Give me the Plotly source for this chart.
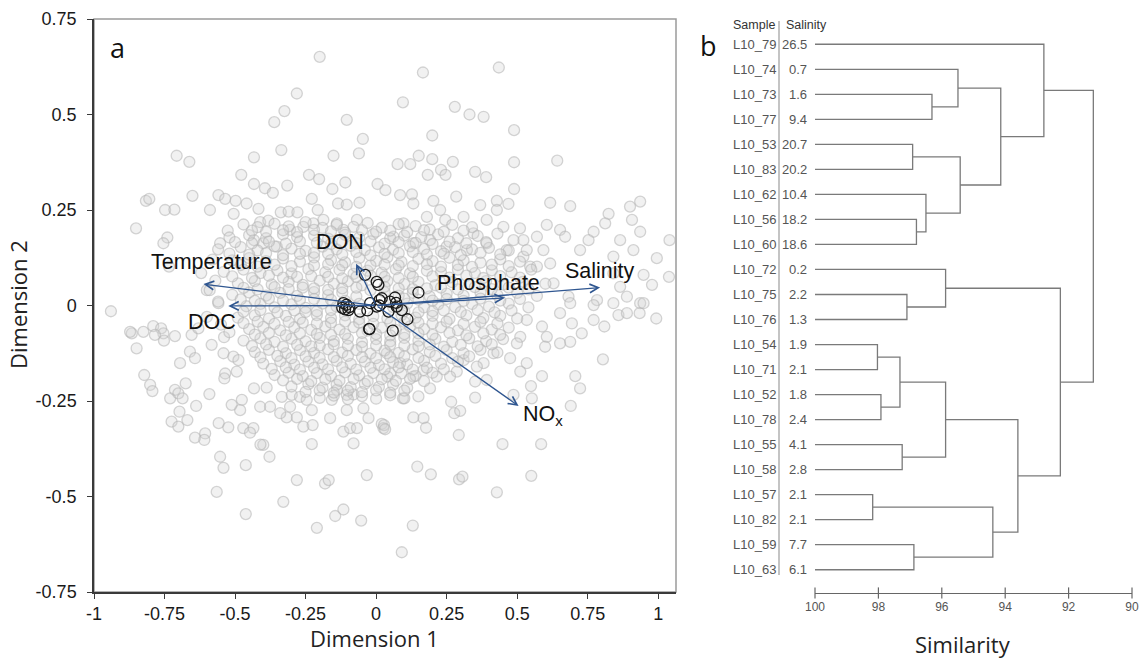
import plotly.graph_objects as go

W, H = 1139, 661

# ---------------- Panel a data: NMDS ordination ----------------
grey_pts = [
    # upper-left region
    (-0.20, 0.651), (-0.281, 0.555), (-0.325, 0.509), (-0.361, 0.48), (-0.104, 0.486), (-0.047, 0.436),
    (-0.061, 0.398), (-0.151, 0.392), (-0.336, 0.407), (-0.433, 0.388), (-0.707, 0.392), (-0.662, 0.376),
    (-0.478, 0.342), (-0.433, 0.318), (-0.394, 0.307), (-0.366, 0.295), (-0.315, 0.314), (-0.238, 0.342),
    (-0.202, 0.331), (-0.155, 0.305), (-0.109, 0.322), (0.005, 0.318), (-0.816, 0.274), (-0.804, 0.279),
    (-0.748, 0.25), (-0.715, 0.251), (-0.651, 0.287), (-0.589, 0.25), (-0.559, 0.289), (-0.535, 0.279),
    (-0.498, 0.274), (-0.459, 0.267), (-0.505, 0.24), (-0.417, 0.253), (-0.411, 0.218), (-0.382, 0.222),
    (-0.338, 0.244), (-0.31, 0.246), (-0.279, 0.244), (-0.228, 0.279), (-0.135, 0.267), (-0.104, 0.264),
    (-0.059, 0.269), (-0.207, 0.25), (-0.851, 0.202), (-0.74, 0.178), (-0.754, 0.163), (-0.526, 0.196),
    (-0.553, 0.163), (-0.734, 0.102), (-0.433, 0.171), (-0.40, 0.163), (-0.352, 0.154), (-0.305, 0.198),
    (-0.258, 0.206), (-0.222, 0.215), (-0.187, 0.224), (-0.139, 0.215), (-0.116, 0.198), (-0.068, 0.224),
    (-0.60, 0.04), (-0.559, 0.006), (-0.94, -0.015),
    # upper-right region
    (0.166, 0.61), (0.435, 0.623), (0.095, 0.532), (0.279, 0.52), (0.331, 0.5), (0.381, 0.494),
    (0.199, 0.445), (0.489, 0.459), (0.076, 0.37), (0.121, 0.37), (0.151, 0.392), (0.199, 0.383),
    (0.23, 0.355), (0.246, 0.342), (0.183, 0.342), (0.272, 0.376), (0.351, 0.35), (0.39, 0.336),
    (0.489, 0.375), (0.642, 0.379), (0.489, 0.305), (0.617, 0.269), (0.688, 0.26), (0.033, 0.302),
    (0.085, 0.289), (0.127, 0.291), (0.203, 0.274), (0.284, 0.285), (0.369, 0.263), (0.428, 0.274),
    (0.469, 0.266), (0.90, 0.259), (0.936, 0.272), (0.907, 0.224), (0.824, 0.24), (0.812, 0.215),
    (1.04, 0.171), (1.038, 0.075), (0.995, 0.124), (0.936, 0.193), (0.865, 0.171), (0.912, 0.145),
    (0.948, 0.08), (0.978, 0.054), (0.841, 0.128), (0.771, 0.193), (0.753, 0.171), (0.723, 0.145),
    (0.652, 0.198), (0.67, 0.18), (0.605, 0.211), (0.57, 0.18), (0.522, 0.171), (0.51, 0.202),
    (0.841, 0.084), (0.889, 0.023), (0.936, 0.006), (0.783, 0.014), (0.865, 0.049), (0.682, 0.023),
    (0.629, 0.058), (0.546, 0.102), (0.522, 0.128), (0.463, 0.145), (0.428, 0.25), (0.392, 0.224),
    (0.345, 0.189), (0.31, 0.232), (0.245, 0.224), (0.227, 0.25), (0.18, 0.232), (0.132, 0.267),
    (0.097, 0.215), (0.061, 0.18), (0.132, 0.163), (0.191, 0.171), (0.25, 0.154), (0.322, 0.145),
    (0.392, 0.163), (0.451, 0.206), (0.487, 0.171), (0.534, 0.145), (0.593, 0.145), (0.57, 0.102),
    (0.617, 0.11),
    # lower-left region
    (-0.866, -0.073), (-0.872, -0.069), (-0.825, -0.069), (-0.79, -0.054), (-0.762, -0.06), (-0.754, -0.073),
    (-0.713, -0.08), (-0.752, -0.092), (-0.849, -0.112), (-0.784, -0.077), (-0.822, -0.182), (-0.801, -0.208),
    (-0.793, -0.224), (-0.73, -0.243), (-0.713, -0.221), (-0.701, -0.23), (-0.675, -0.204), (-0.686, -0.243),
    (-0.697, -0.278), (-0.725, -0.304), (-0.701, -0.317), (-0.669, -0.30), (-0.638, -0.263), (-0.591, -0.232),
    (-0.695, -0.151), (-0.66, -0.121), (-0.642, -0.138), (-0.654, -0.077), (-0.583, -0.103), (-0.539, -0.083),
    (-0.541, -0.125), (-0.506, -0.134), (-0.488, -0.143), (-0.494, -0.173), (-0.535, -0.178), (-0.538, -0.191),
    (-0.606, -0.335), (-0.642, -0.346), (-0.609, -0.352), (-0.553, -0.396), (-0.541, -0.425), (-0.565, -0.488),
    (-0.462, -0.418), (-0.462, -0.546), (-0.558, -0.308), (-0.524, -0.319), (-0.476, -0.247), (-0.471, -0.321),
    (-0.435, -0.321), (-0.447, -0.333), (-0.482, -0.274), (-0.512, -0.26), (-0.40, -0.365), (-0.41, -0.364),
    (-0.378, -0.396), (-0.433, -0.217), (-0.388, -0.215), (-0.411, -0.265), (-0.376, -0.265), (-0.334, -0.239),
    (-0.299, -0.234), (-0.27, -0.239), (-0.246, -0.247), (-0.305, -0.265), (-0.281, -0.293), (-0.317, -0.293),
    (-0.34, -0.282), (-0.228, -0.274), (-0.258, -0.317), (-0.225, -0.313), (-0.228, -0.363), (-0.281, -0.457),
    (-0.181, -0.466), (-0.168, -0.457), (-0.329, -0.514), (-0.145, -0.551), (-0.116, -0.534), (-0.21, -0.582),
    (-0.053, -0.563), (-0.033, -0.444), (-0.08, -0.361), (-0.116, -0.33), (-0.092, -0.321), (-0.163, -0.295),
    (-0.157, -0.247), (-0.139, -0.221), (-0.104, -0.234), (-0.08, -0.233), (-0.045, -0.269), (-0.027, -0.295),
    (0.02, -0.31), (0.026, -0.321), (-0.104, -0.274), (-0.068, -0.321),
    # lower-right region
    (0.095, -0.243), (0.132, -0.293), (0.168, -0.295), (0.177, -0.32), (0.028, -0.313), (0.032, -0.324),
    (0.266, -0.252), (0.277, -0.282), (0.298, -0.276), (0.293, -0.339), (0.351, -0.241), (0.448, -0.363),
    (0.487, -0.234), (0.552, -0.243), (0.549, -0.211), (0.585, -0.363), (0.588, -0.185), (0.69, -0.263),
    (0.706, -0.185), (0.723, -0.217), (0.804, -0.141), (0.146, -0.422), (0.194, -0.442), (0.294, -0.455),
    (0.306, -0.448), (0.428, -0.489), (0.55, -0.446), (0.13, -0.576), (0.091, -0.646),
    (0.652, -0.02), (0.694, -0.047), (0.729, -0.073), (0.771, -0.038), (0.809, -0.055), (0.859, -0.025),
    (0.889, -0.02), (0.934, -0.02), (0.993, -0.034), (0.948, 0.006), (0.841, 0.006), (0.771, 0.001),
    (0.688, 0.006), (0.652, -0.099), (0.688, -0.095), (0.605, -0.082), (0.599, -0.108), (0.588, -0.055),
    (0.534, -0.038), (0.511, -0.082), (0.499, -0.099), (0.534, -0.151), (0.511, -0.173), (0.475, -0.138),
    (0.416, -0.125), (0.381, -0.151), (0.357, -0.16), (0.392, -0.195), (0.351, -0.199), (0.31, -0.143),
    (0.286, -0.173), (0.191, -0.217), (0.262, -0.186), (0.215, -0.186), (0.168, -0.169), (0.132, -0.186),
    (0.085, -0.151), (0.05, -0.178), (0.038, -0.125),
    # dense central mass
    (-0.47, 0.212), (-0.42, 0.205), (-0.36, 0.214), (-0.31, 0.207), (-0.25, 0.218), (-0.19, 0.203),
    (-0.14, 0.211), (-0.08, 0.206), (-0.03, 0.216), (0.02, 0.204), (0.08, 0.213), (0.14, 0.208),
    (0.19, 0.199), (0.27, 0.211), (0.34, 0.205),
    (-0.52, 0.178), (-0.45, 0.184), (-0.39, 0.176), (-0.33, 0.186), (-0.28, 0.179), (-0.22, 0.183),
    (-0.17, 0.175), (-0.11, 0.185), (-0.06, 0.178), (-0.01, 0.187), (0.05, 0.176), (0.10, 0.183),
    (0.16, 0.179), (0.22, 0.186), (0.29, 0.176), (0.36, 0.182), (0.43, 0.188),
    (-0.56, 0.147), (-0.48, 0.153), (-0.42, 0.144), (-0.36, 0.155), (-0.30, 0.149), (-0.25, 0.143),
    (-0.19, 0.154), (-0.14, 0.147), (-0.09, 0.156), (-0.04, 0.145), (0.01, 0.152), (0.06, 0.146),
    (0.12, 0.155), (0.17, 0.148), (0.23, 0.142), (0.28, 0.153), (0.34, 0.147), (0.40, 0.151), (0.47, 0.144),
    (-0.51, 0.118), (-0.45, 0.124), (-0.39, 0.116), (-0.33, 0.123), (-0.27, 0.115), (-0.22, 0.126),
    (-0.16, 0.119), (-0.11, 0.113), (-0.06, 0.124), (0.00, 0.117), (0.04, 0.126), (0.09, 0.114),
    (0.15, 0.122), (0.20, 0.116), (0.26, 0.125), (0.31, 0.118), (0.37, 0.112), (0.44, 0.121), (0.51, 0.115),
    (-0.54, 0.088), (-0.47, 0.094), (-0.41, 0.085), (-0.35, 0.092), (-0.30, 0.084), (-0.24, 0.095),
    (-0.18, 0.087), (-0.13, 0.093), (-0.08, 0.083), (-0.03, 0.091), (0.02, 0.086), (0.07, 0.095),
    (0.12, 0.084), (0.18, 0.091), (0.23, 0.087), (0.29, 0.094), (0.35, 0.085), (0.41, 0.092),
    (0.48, 0.087), (0.55, 0.094),
    (-0.49, 0.058), (-0.43, 0.064), (-0.37, 0.055), (-0.31, 0.062), (-0.26, 0.054), (-0.20, 0.065),
    (-0.15, 0.057), (-0.10, 0.063), (-0.05, 0.053), (0.04, 0.064), (0.10, 0.056), (0.15, 0.062),
    (0.21, 0.053), (0.27, 0.061), (0.33, 0.056), (0.39, 0.064), (0.45, 0.055), (0.52, 0.062), (0.60, 0.057),
    (-0.51, 0.028), (-0.45, 0.034), (-0.39, 0.026), (-0.34, 0.033), (-0.28, 0.025), (-0.22, 0.035),
    (-0.17, 0.027), (-0.12, 0.034), (-0.07, 0.024), (0.03, 0.035), (0.08, 0.026), (0.13, 0.033),
    (0.19, 0.024), (0.25, 0.031), (0.31, 0.026), (0.37, 0.034), (0.43, 0.027), (0.50, 0.033), (0.57, 0.025),
    (-0.46, -0.002), (-0.41, 0.004), (-0.36, -0.005), (-0.30, 0.003), (-0.25, -0.006), (-0.19, 0.005),
    (-0.14, -0.003), (-0.06, 0.004), (0.06, -0.004), (0.11, 0.005), (0.17, -0.005), (0.22, 0.003),
    (0.28, -0.004), (0.34, 0.004), (0.40, -0.003), (0.47, 0.005), (0.54, -0.005),
    (-0.49, -0.032), (-0.43, -0.026), (-0.38, -0.034), (-0.32, -0.027), (-0.27, -0.035), (-0.21, -0.025),
    (-0.16, -0.033), (-0.11, -0.026), (-0.06, -0.036), (-0.01, -0.028), (0.04, -0.034), (0.09, -0.025),
    (0.14, -0.032), (0.20, -0.027), (0.26, -0.035), (0.32, -0.026), (0.38, -0.033), (0.44, -0.027), (0.50, -0.034),
    (-0.45, -0.062), (-0.40, -0.056), (-0.34, -0.065), (-0.29, -0.057), (-0.23, -0.064), (-0.18, -0.055),
    (-0.13, -0.063), (-0.08, -0.057), (-0.03, -0.066), (0.02, -0.058), (0.07, -0.064), (0.12, -0.055),
    (0.17, -0.062), (0.23, -0.057), (0.29, -0.065), (0.35, -0.056), (0.41, -0.063), (0.47, -0.058),
    (-0.47, -0.092), (-0.41, -0.086), (-0.36, -0.095), (-0.30, -0.087), (-0.25, -0.094), (-0.20, -0.085),
    (-0.15, -0.093), (-0.10, -0.087), (-0.05, -0.096), (0.00, -0.088), (0.05, -0.094), (0.10, -0.085),
    (0.15, -0.092), (0.21, -0.087), (0.27, -0.095), (0.33, -0.086), (0.39, -0.093), (0.45, -0.088),
    (-0.43, -0.122), (-0.38, -0.116), (-0.32, -0.125), (-0.27, -0.117), (-0.22, -0.124), (-0.17, -0.115),
    (-0.12, -0.123), (-0.07, -0.117), (-0.02, -0.126), (0.03, -0.118), (0.08, -0.124), (0.13, -0.115),
    (0.19, -0.122), (0.25, -0.117), (0.31, -0.125), (0.37, -0.116), (0.43, -0.123),
    (-0.40, -0.152), (-0.34, -0.146), (-0.29, -0.155), (-0.24, -0.147), (-0.19, -0.154), (-0.14, -0.145),
    (-0.09, -0.153), (-0.04, -0.147), (0.01, -0.156), (0.06, -0.148), (0.11, -0.154), (0.17, -0.145),
    (0.23, -0.152), (0.29, -0.147),
    (-0.36, -0.182), (-0.31, -0.176), (-0.26, -0.185), (-0.21, -0.177), (-0.16, -0.184), (-0.11, -0.175),
    (-0.06, -0.183), (-0.01, -0.177), (0.04, -0.186), (0.09, -0.178), (0.14, -0.184), (0.20, -0.176),
    (-0.30, -0.212), (-0.24, -0.206), (-0.19, -0.215), (-0.14, -0.207), (-0.09, -0.214), (-0.04, -0.205),
    (0.01, -0.213), (0.06, -0.207), (0.11, -0.215),
    (-0.20, -0.242), (-0.15, -0.236), (-0.10, -0.245), (-0.05, -0.237), (0.00, -0.244), (0.05, -0.235),
    (0.10, -0.243), (0.15, -0.238),
    (-0.27, 0.135), (-0.22, 0.105), (-0.17, 0.135), (-0.12, 0.105), (-0.07, 0.14), (-0.02, 0.105),
    (0.03, 0.135), (0.08, 0.105), (0.13, 0.14),
    (-0.28, 0.075), (-0.22, 0.045), (-0.17, 0.075), (-0.12, 0.045), (-0.07, 0.075), (-0.02, 0.04),
    (0.03, 0.075), (0.08, 0.045), (0.13, 0.075), (0.18, 0.045),
    (-0.27, 0.015), (-0.21, -0.015), (-0.16, 0.015), (0.05, 0.01), (0.10, -0.015), (0.15, 0.015), (0.20, -0.015),
    (-0.26, -0.045), (-0.21, -0.075), (-0.16, -0.045), (-0.11, -0.075), (-0.06, -0.045), (0.00, -0.075),
    (0.05, -0.045), (0.10, -0.075), (0.15, -0.045),
    (-0.20, -0.105), (-0.15, -0.135), (-0.10, -0.105), (-0.05, -0.135), (0.00, -0.105), (0.05, -0.135), (0.10, -0.105),
    (-0.58, 0.12), (-0.62, 0.085), (-0.57, 0.065), (-0.59, 0.04), (-0.56, 0.01), (-0.60, -0.03),
    (-0.55, -0.05), (-0.52, -0.07), (-0.63, -0.06),
    # second layer of the central mass
    (-0.44, 0.196), (-0.39, 0.193), (-0.33, 0.197), (-0.28, 0.192), (-0.22, 0.198), (-0.16, 0.194),
    (-0.11, 0.191), (-0.05, 0.197), (0.00, 0.193), (0.05, 0.196), (0.11, 0.192), (0.17, 0.197),
    (0.24, 0.193), (0.31, 0.196),
    (-0.50, 0.166), (-0.44, 0.163), (-0.38, 0.167), (-0.32, 0.162), (-0.27, 0.168), (-0.21, 0.164),
    (-0.16, 0.161), (-0.12, 0.167), (-0.07, 0.163), (-0.02, 0.168), (0.03, 0.162), (0.08, 0.166),
    (0.14, 0.164), (0.20, 0.161), (0.26, 0.167), (0.32, 0.163), (0.39, 0.166),
    (-0.52, 0.136), (-0.45, 0.133), (-0.39, 0.137), (-0.33, 0.132), (-0.22, 0.138), (-0.12, 0.134),
    (-0.02, 0.131), (0.08, 0.137), (0.18, 0.133), (0.24, 0.136), (0.30, 0.132), (0.37, 0.138), (0.44, 0.134),
    (-0.48, 0.106), (-0.42, 0.102), (-0.36, 0.107), (-0.30, 0.103), (-0.17, 0.108), (-0.07, 0.101),
    (0.03, 0.107), (0.13, 0.103), (0.18, 0.108), (0.23, 0.102), (0.29, 0.106), (0.34, 0.101),
    (0.41, 0.107), (0.47, 0.103),
    (-0.51, 0.076), (-0.44, 0.072), (-0.38, 0.078), (-0.33, 0.073), (-0.23, 0.077), (-0.12, 0.071),
    (-0.02, 0.078), (0.08, 0.072), (0.20, 0.076), (0.26, 0.073), (0.32, 0.078), (0.38, 0.072),
    (0.44, 0.077), (0.51, 0.073),
    (-0.47, 0.046), (-0.42, 0.042), (-0.36, 0.048), (-0.31, 0.043), (-0.26, 0.047), (-0.17, 0.041),
    (-0.07, 0.047), (0.03, 0.049), (0.13, 0.043), (0.23, 0.047), (0.29, 0.042), (0.35, 0.048),
    (0.41, 0.043), (0.47, 0.047), (0.54, 0.042),
    (-0.48, 0.016), (-0.43, 0.012), (-0.38, 0.018), (-0.33, 0.013), (-0.22, 0.017), (-0.11, 0.012),
    (0.10, 0.018), (0.20, 0.013), (0.25, 0.017), (0.31, 0.012), (0.37, 0.018), (0.44, 0.013), (0.51, 0.017),
    (-0.47, -0.016), (-0.41, -0.012), (-0.35, -0.018), (-0.29, -0.013), (-0.25, -0.017), (-0.16, -0.012),
    (0.15, -0.018), (0.24, -0.013), (0.30, -0.017), (0.36, -0.012), (0.42, -0.018), (0.48, -0.013),
    (-0.47, -0.046), (-0.42, -0.042), (-0.36, -0.048), (-0.31, -0.043), (-0.21, -0.047), (-0.11, -0.042),
    (-0.01, -0.048), (0.10, -0.043), (0.20, -0.047), (0.25, -0.042), (0.31, -0.048), (0.37, -0.043), (0.43, -0.047),
    (-0.43, -0.076), (-0.38, -0.072), (-0.32, -0.078), (-0.27, -0.073), (-0.16, -0.077), (-0.05, -0.072),
    (0.05, -0.078), (0.15, -0.073), (0.20, -0.077), (0.26, -0.072), (0.32, -0.078), (0.38, -0.073), (0.44, -0.077),
    (-0.44, -0.106), (-0.39, -0.102), (-0.33, -0.108), (-0.28, -0.103), (-0.23, -0.107), (-0.15, -0.102),
    (-0.05, -0.108), (0.05, -0.103), (0.15, -0.107), (0.19, -0.102), (0.24, -0.108), (0.30, -0.103),
    (0.36, -0.107), (0.41, -0.102),
    (-0.41, -0.136), (-0.35, -0.132), (-0.30, -0.138), (-0.25, -0.133), (-0.20, -0.137), (-0.10, -0.132),
    (0.00, -0.138), (0.10, -0.133), (0.15, -0.137), (0.21, -0.132), (0.27, -0.138), (0.33, -0.133),
    (-0.37, -0.166), (-0.32, -0.162), (-0.27, -0.168), (-0.22, -0.163), (-0.17, -0.167), (-0.12, -0.162),
    (-0.07, -0.168), (-0.02, -0.163), (0.03, -0.167), (0.08, -0.162), (0.13, -0.168), (0.18, -0.163), (0.24, -0.167),
    (-0.33, -0.196), (-0.28, -0.192), (-0.23, -0.198), (-0.18, -0.193), (-0.13, -0.197), (-0.08, -0.192),
    (-0.03, -0.198), (0.02, -0.193), (0.07, -0.197), (0.12, -0.192), (0.17, -0.198),
    (-0.25, -0.226), (-0.20, -0.222), (-0.15, -0.228), (-0.10, -0.223), (-0.05, -0.227), (0.00, -0.222),
    (0.05, -0.228), (0.10, -0.223),
]
grey_x = [p[0] for p in grey_pts]
grey_y = [p[1] for p in grey_pts]

black_x = [-0.039, 0.002, 0.008, 0.15, 0.02, 0.067, 0.071, -0.116, -0.105, -0.11, -0.095, -0.12,
           -0.098, -0.057, -0.031, -0.021, 0.002, 0.012, 0.044, 0.073, 0.091, 0.111, 0.012,
           -0.024, -0.024, 0.059, 0.049]
black_y = [0.08, 0.062, 0.054, 0.034, 0.019, 0.021, 0.007, 0.006, 0.002, -0.01, -0.004, -0.006,
           -0.012, -0.016, -0.013, 0.006, -0.003, 0.0, -0.016, -0.003, -0.012, -0.036, 0.014,
           -0.062, -0.061, -0.066, 0.01]

vec_names = ["Temperature", "DOC", "DON", "Phosphate", "Salinity", "NO<sub>x</sub>"]
vec_x = [-0.612, -0.524, -0.071, 0.457, 0.794, 0.505]
vec_y = [0.056, -0.001, 0.109, 0.020, 0.047, -0.263]
# label anchor positions (data units)
vec_lab_x = [-0.583, -0.583, -0.128, 0.397, 0.794, 0.592]
vec_lab_y = [0.113, -0.042, 0.166, 0.059, 0.091, -0.287]

x_ticks = [-1, -0.75, -0.5, -0.25, 0, 0.25, 0.5, 0.75, 1]
x_ticktext = ["-1", "-0.75", "-0.5", "-0.25", "0", "0.25", "0.5", "0.75", "1"]
y_ticks = [-0.75, -0.5, -0.25, 0, 0.25, 0.5, 0.75]
y_ticktext = ["-0.75", "-0.5", "-0.25", "0", "0.25", "0.5", "0.75"]

# ---------------- Panel b data: cluster dendrogram ----------------
samples = ["L10_79", "L10_74", "L10_73", "L10_77", "L10_53", "L10_83", "L10_62", "L10_56", "L10_60",
           "L10_72", "L10_75", "L10_76", "L10_54", "L10_71", "L10_52", "L10_78", "L10_55", "L10_58",
           "L10_57", "L10_82", "L10_59", "L10_63"]
salinity = ["26.5", "0.7", "1.6", "9.4", "20.7", "20.2", "10.4", "18.2", "18.6", "0.2", "2.2", "1.3",
            "1.9", "2.1", "1.8", "2.4", "4.1", "2.8", "2.1", "2.1", "7.7", "6.1"]
# merges: (node a, node b, similarity); new nodes numbered from len(samples)
merges = [
    (2, 3, 96.31), (1, 22, 95.49), (4, 5, 96.92), (7, 8, 96.80), (6, 25, 96.50), (24, 26, 95.42),
    (23, 27, 94.14), (0, 28, 92.78), (10, 11, 97.10), (9, 30, 95.88), (12, 13, 98.03), (14, 15, 97.92),
    (32, 33, 97.32), (16, 17, 97.25), (34, 35, 95.88), (18, 19, 98.18), (20, 21, 96.88), (37, 38, 94.39),
    (36, 39, 93.60), (31, 40, 92.26), (29, 41, 91.22),
]
sim_ticks = [100, 98, 96, 94, 92, 90]

# ---------------- build figure ----------------
fig = go.Figure()

fig.add_trace(go.Scatter(
    x=grey_x, y=grey_y, mode="markers", xaxis="x", yaxis="y", hoverinfo="skip",
    marker=dict(size=11, color="rgba(212,212,212,0.32)",
                line=dict(color="rgba(178,178,178,0.55)", width=1.3)),
))
fig.add_trace(go.Scatter(
    x=black_x, y=black_y, mode="markers", xaxis="x", yaxis="y", hoverinfo="skip",
    marker=dict(size=11, color="rgba(0,0,0,0)", line=dict(color="#1a1a1a", width=1.3)),
))

# dendrogram segments
n = len(samples)
node_pos = {i: float(i) for i in range(n)}
node_h = {i: 100.0 for i in range(n)}
dx, dy = [], []
for k, (a, b, h) in enumerate(merges):
    dx += [node_h[a], h, h, node_h[b], None]
    dy += [node_pos[a], node_pos[a], node_pos[b], node_pos[b], None]
    node_pos[n + k] = (node_pos[a] + node_pos[b]) / 2
    node_h[n + k] = h

fig.add_trace(go.Scatter(
    x=dx, y=dy, mode="lines", xaxis="x2", yaxis="y2", hoverinfo="skip",
    line=dict(color="#7a7a7a", width=1.3),
))

# y2 range chosen so that rows sit at the right height
y2_bottom, y2_top = 21.93, -1.05
fig.add_trace(go.Scatter(
    x=sim_ticks, y=[y2_bottom] * len(sim_ticks), mode="markers", xaxis="x2", yaxis="y2",
    hoverinfo="skip", cliponaxis=False,
    marker=dict(symbol="line-ns", size=8, line=dict(color="#666666", width=1.2)),
))

ARIAL = "Liberation Sans, Arial, sans-serif"
SANS = "Open Sans, sans-serif"

fig.update_layout(
    width=W, height=H, margin=dict(l=0, r=0, t=0, b=0, autoexpand=False),
    paper_bgcolor="white", plot_bgcolor="white", showlegend=False,
    xaxis=dict(domain=[94 / W, 676 / W], range=[-1, 1.063], tickvals=x_ticks, ticktext=x_ticktext,
               showgrid=False, zeroline=False, showline=True, linecolor="#3a3a3a", linewidth=1.5,
               ticks="outside", ticklen=5, tickcolor="#3a3a3a", tickwidth=1.3, automargin=False,
               ticklabelstandoff=0,
               tickfont=dict(family=ARIAL, size=18, color="#1a1a1a"), anchor="y"),
    yaxis=dict(domain=[1 - 592 / H, 1 - 19 / H], range=[-0.75, 0.75], tickvals=y_ticks, ticktext=y_ticktext,
               showgrid=False, zeroline=False, showline=True, linecolor="#3a3a3a", linewidth=1.5,
               ticks="outside", ticklen=5, tickcolor="#3a3a3a", tickwidth=1.3, automargin=False,
               ticklabelstandoff=7,
               tickfont=dict(family=ARIAL, size=18, color="#1a1a1a"), anchor="x"),
    xaxis2=dict(domain=[815 / W, 1132 / W], range=[100, 90], tickvals=sim_ticks,
                ticktext=[str(t) for t in sim_ticks], showgrid=False, zeroline=False,
                showline=True, linecolor="#666666", linewidth=1.2, ticks="", automargin=False,
                ticklabelstandoff=2,
                tickfont=dict(family=ARIAL, size=12, color="#555555"), anchor="y2"),
    yaxis2=dict(domain=[1 - 593 / H, 1 - 18 / H], range=[y2_bottom, y2_top], visible=False,
                anchor="x2", automargin=False),
)

# frame of panel a (top/right lighter)
fig.add_shape(type="rect", xref="x domain", yref="y domain", x0=0, x1=1, y0=0, y1=1,
              line=dict(color="#9a9a9a", width=1.5), layer="below")

ann = []
# biplot vectors
for name, vx, vy, lx, ly in zip(vec_names, vec_x, vec_y, vec_lab_x, vec_lab_y):
    ann.append(dict(x=vx, y=vy, ax=0, ay=0, xref="x", yref="y", axref="x", ayref="y",
                    showarrow=True, arrowhead=5, arrowsize=1.3, arrowwidth=1.3, arrowcolor="#2f5690",
                    text=""))
    ann.append(dict(x=lx, y=ly, xref="x", yref="y", text=name, showarrow=False,
                    font=dict(family=ARIAL, size=21.5, color="#111111"), xanchor="center", yanchor="middle"))

# panel letters and titles
ann += [
    dict(x=117 / W, y=1 - 47 / H, xref="paper", yref="paper", text="a", showarrow=False,
         font=dict(family=SANS, size=27, color="#111111"), xanchor="center", yanchor="middle"),
    dict(x=708 / W, y=1 - 45 / H, xref="paper", yref="paper", text="b", showarrow=False,
         font=dict(family=SANS, size=27, color="#111111"), xanchor="center", yanchor="middle"),
    dict(x=374 / W, y=1 - 638 / H, xref="paper", yref="paper", text="Dimension 1", showarrow=False,
         font=dict(family=SANS, size=22, color="#222222"), xanchor="center", yanchor="middle"),
    dict(x=18 / W, y=1 - 305 / H, xref="paper", yref="paper", text="Dimension 2", showarrow=False,
         textangle=-90, font=dict(family=SANS, size=22, color="#222222"), xanchor="center", yanchor="middle"),
    dict(x=963 / W, y=1 - 644 / H, xref="paper", yref="paper", text="Similarity", showarrow=False,
         font=dict(family=SANS, size=22, color="#222222"), xanchor="center", yanchor="middle"),
    dict(x=731 / W, y=-0.77, xref="paper", yref="y2", text="Sample", showarrow=False,
         font=dict(family=ARIAL, size=12.5, color="#333333"), xanchor="left", yanchor="middle"),
    dict(x=784 / W, y=-0.77, xref="paper", yref="y2", text="Salinity", showarrow=False,
         font=dict(family=ARIAL, size=12.5, color="#333333"), xanchor="left", yanchor="middle"),
]
for i, (s, sal) in enumerate(zip(samples, salinity)):
    ann.append(dict(x=731 / W, y=i, xref="paper", yref="y2", text=s, showarrow=False,
                    font=dict(family=ARIAL, size=13, color="#555555"), xanchor="left", yanchor="middle"))
    ann.append(dict(x=809 / W, y=i, xref="paper", yref="y2", text=sal, showarrow=False,
                    font=dict(family=ARIAL, size=13, color="#555555"), xanchor="right", yanchor="middle"))
fig.update_layout(annotations=ann)

# separator between sample names and salinity
fig.add_shape(type="line", xref="paper", yref="paper", x0=779 / W, x1=779 / W,
              y0=1 - 575 / H, y1=1 - 21 / H, line=dict(color="#b0b0b0", width=1.5))

fig.write_html("out.html")
